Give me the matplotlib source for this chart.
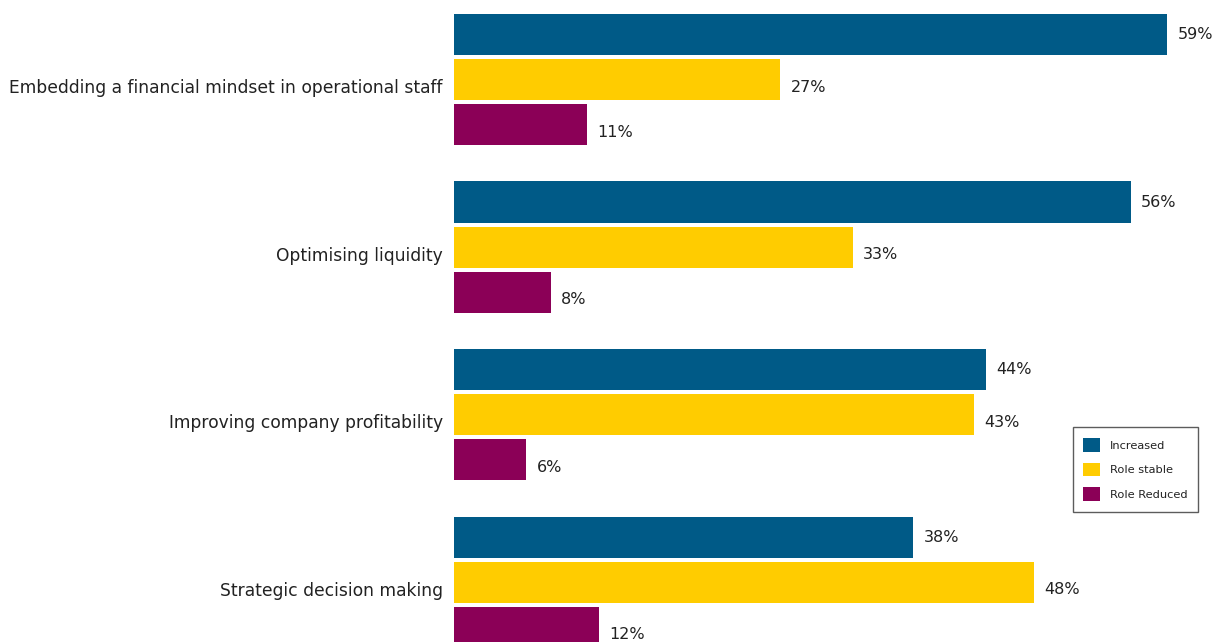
import matplotlib
matplotlib.use("Agg")
import matplotlib.pyplot as plt
from matplotlib.patches import Patch
import numpy as np

# data
categories = [
    "Embedding a financial mindset in operational staff",
    "Optimising liquidity",
    "Improving company profitability",
    "Strategic decision making",
]
increased = [59, 56, 44, 38]
role_stable = [27, 33, 43, 48]
role_reduced = [11, 8, 6, 12]

series_names = ["Increased", "Role stable", "Role Reduced"]
colors = ["#005a87", "#ffcc00", "#8b0057"]

plt.rcParams["font.family"] = ["DejaVu Sans"]

fig = plt.figure(figsize=(12.2, 6.42), dpi=100)
ax = fig.add_axes([454 / 1220, 0, 766 / 1220, 1])

y = np.arange(len(categories))
step = 0.2687
height = 0.2448
label_dy = [-0.2, -5.5, -5.5]

for k, (vals, col) in enumerate(zip([increased, role_stable, role_reduced], colors)):
    pos = y + (k - 1) * step
    ax.barh(pos, vals, height=height, color=col)
    for p, v in zip(pos, vals):
        ax.annotate(f"{v}%", (v, p), xytext=(7.5, label_dy[k]), textcoords="offset points",
                    va="center", ha="left", fontsize=11.5, color="#222222")

ax.set_xlim(0, 63.4)
ax.set_ylim(3.358, -0.4746)

ax.set_yticks(y + 0.04)
ax.set_yticklabels(categories, fontsize=12.3, color="#222222")
ax.tick_params(axis="y", length=0, pad=8)
ax.set_xticks([])
for s in ax.spines.values():
    s.set_visible(False)

handles = [Patch(facecolor=c, label=n) for c, n in zip(colors, series_names)]
leg = ax.legend(handles=handles, loc="lower right", bbox_to_anchor=(1198 / 1220, 1 - 512 / 642),
                bbox_transform=fig.transFigure, borderaxespad=0, fontsize=8.2, frameon=True,
                fancybox=False, edgecolor="#333333", handlelength=1.5, handleheight=1.5,
                labelspacing=0.95, borderpad=0.95, handletextpad=0.8)
leg.get_frame().set_linewidth(1.0)
for t in leg.get_texts():
    t.set_color("#222222")

fig.savefig("out.png", dpi=100)
